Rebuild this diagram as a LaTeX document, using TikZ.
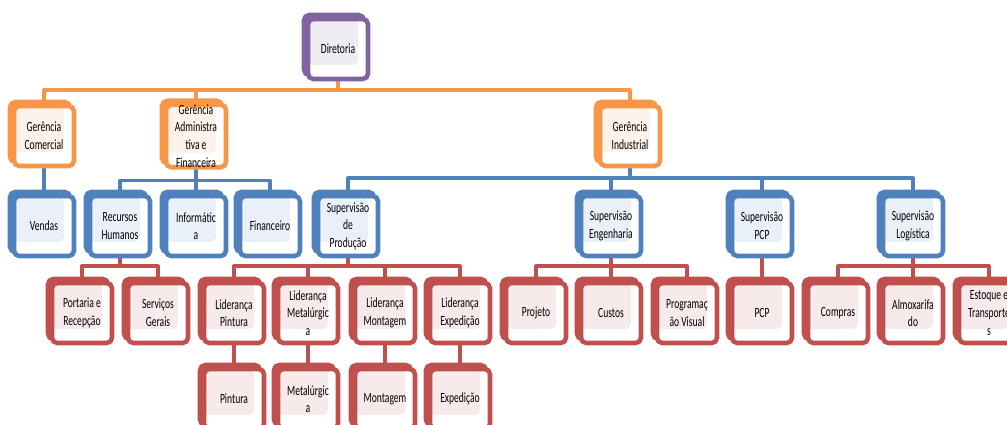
\documentclass[tikz,border=0pt]{standalone}
\usepackage{fontspec}
\setmainfont{Carlito}[FakeStretch=0.68]
\usetikzlibrary{positioning}

\definecolor{roxo}{HTML}{8064A2}
\definecolor{laranja}{HTML}{F79646}
\definecolor{azul}{HTML}{4F81BD}
\definecolor{vermelho}{HTML}{C0504D}
\definecolor{roxoclaro}{HTML}{EFECF3}
\definecolor{laranjaclaro}{HTML}{FDF3EB}
\definecolor{azulclaro}{HTML}{EAF0F8}
\definecolor{vermelhoclaro}{HTML}{F7EAEA}

\pgfdeclarelayer{fundo}
\pgfsetlayers{fundo,main}

\tikzset{
  cargo/.style={draw=#1, line width=2.6pt, rounded corners=3pt, fill=white,
    minimum width=1.2cm, minimum height=1.2cm, inner sep=0pt, align=center,
    font=\fontsize{8}{10}\selectfont,
    preaction={draw=#1, fill=#1, transform canvas={shift={(-0.08cm,0.08cm)}}},
    path picture={\fill[#1claro] (path picture bounding box.north west)
      rectangle ([xshift=-0.2cm,yshift=0.28cm]path picture bounding box.south east);}},
  ligacao/.style={draw=#1, line width=2.2pt, line join=round, line cap=round}
}

\begin{document}
\begin{tikzpicture}[x=0.02cm, y=-0.02cm]

    \useasboundingbox (0,0) rectangle (1007,425);

    % Diretoria
    \node[cargo=roxo] (dir) at (338,49) {Diretoria};

    % Gerencias
    \node[cargo=laranja] (gco) at (44,136) {Gerência\\Comercial};
    \node[cargo=laranja] (gad) at (196,136) {Gerência\\Administra\\tiva e\\Financeira};
    \node[cargo=laranja] (gin) at (630,136) {Gerência\\Industrial};

    % Supervisoes e setores
    \node[cargo=azul] (ven) at (44,226) {Vendas};
    \node[cargo=azul] (rhu) at (120,226) {Recursos\\Humanos};
    \node[cargo=azul] (inf) at (196,226) {Informátic\\a};
    \node[cargo=azul] (fin) at (270,226) {Financeiro};
    \node[cargo=azul] (spr) at (348,226) {Supervisão\\de\\Produção};
    \node[cargo=azul] (sen) at (611,226) {Supervisão\\Engenharia};
    \node[cargo=azul] (spc) at (762,226) {Supervisão\\PCP};
    \node[cargo=azul] (slo) at (913,226) {Supervisão\\Logística};

    % Liderancas e areas
    \node[cargo=vermelho] (por) at (82,313) {Portaria e\\Recepção};
    \node[cargo=vermelho] (ser) at (158,313) {Serviços\\Gerais};
    \node[cargo=vermelho] (lpi) at (234,313) {Liderança\\Pintura};
    \node[cargo=vermelho] (lme) at (308,313) {Liderança\\Metalúrgic\\a};
    \node[cargo=vermelho] (lmo) at (385,313) {Liderança\\Montagem};
    \node[cargo=vermelho] (lex) at (460,313) {Liderança\\Expedição};
    \node[cargo=vermelho] (pro) at (536,313) {Projeto};
    \node[cargo=vermelho] (cus) at (611,313) {Custos};
    \node[cargo=vermelho] (prv) at (687,313) {Programaç\\ão Visual};
    \node[cargo=vermelho] (pcp) at (762,313) {PCP};
    \node[cargo=vermelho] (com) at (838,313) {Compras};
    \node[cargo=vermelho] (alm) at (913,313) {Almoxarifa\\do};
    \node[cargo=vermelho] (est) at (989,313) {Estoque e\\Transporte\\s};

    % Producao
    \node[cargo=vermelho] (pin) at (234,399) {Pintura};
    \node[cargo=vermelho] (met) at (308,399) {Metalúrgic\\a};
    \node[cargo=vermelho] (mon) at (385,399) {Montagem};
    \node[cargo=vermelho] (exp) at (460,399) {Expedição};

    \begin{pgfonlayer}{fundo}
    % ligacoes
    \foreach \f in {gco,gad,gin}
        \draw[ligacao=laranja] (dir.south) -- ++(0,9) -| (\f.north);
    \draw[ligacao=azul] (gco.south) -- (ven.north);
    \foreach \f in {rhu,inf,fin}
        \draw[ligacao=azul] (gad.south) -- ++(0,11) -| (\f.north);
    \foreach \f in {spr,sen,spc,slo}
        \draw[ligacao=azul] (gin.south) -- ++(0,10) -| (\f.north);
    \foreach \f in {por,ser}
        \draw[ligacao=vermelho] (rhu.south) -- ++(0,8) -| (\f.north);
    \foreach \f in {lpi,lme,lmo,lex}
        \draw[ligacao=vermelho] (spr.south) -- ++(0,8) -| (\f.north);
    \foreach \f in {pro,cus,prv}
        \draw[ligacao=vermelho] (sen.south) -- ++(0,8) -| (\f.north);
    \draw[ligacao=vermelho] (spc.south) -- (pcp.north);
    \foreach \f in {com,alm,est}
        \draw[ligacao=vermelho] (slo.south) -- ++(0,8) -| (\f.north);
    \draw[ligacao=vermelho] (lpi.south) -- (pin.north);
    \draw[ligacao=vermelho] (lme.south) -- (met.north);
    \draw[ligacao=vermelho] (lmo.south) -- (mon.north);
    \draw[ligacao=vermelho] (lex.south) -- (exp.north);
    \end{pgfonlayer}
  \end{tikzpicture}
\end{document}
